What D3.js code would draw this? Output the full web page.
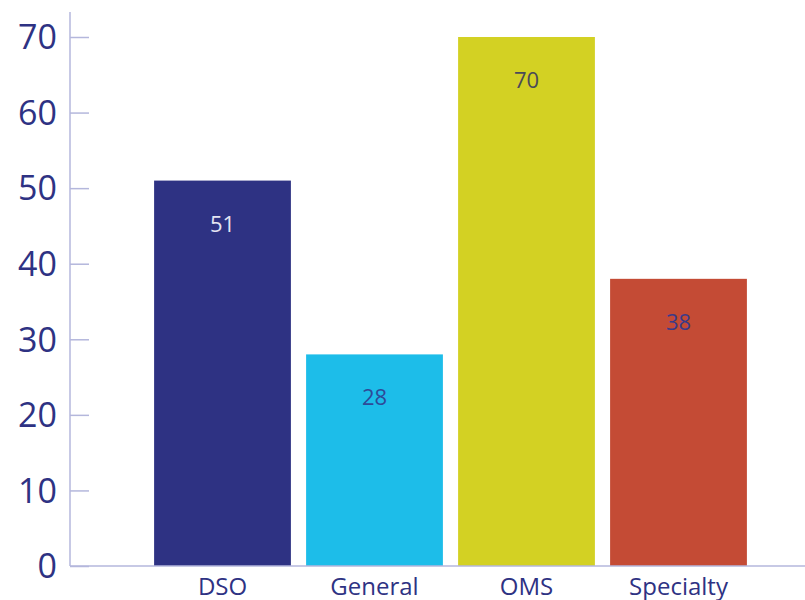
<!DOCTYPE html>
<html><head><meta charset="utf-8">
<script src="https://cdn.jsdelivr.net/npm/d3@7"></script>
<style>
html,body{margin:0;padding:0;background:#fff;}
svg{display:block;font-family:"Open Sans",sans-serif;}
</style></head>
<body>
<svg id="chart" width="805" height="600"></svg>
<script>
const categories = ["DSO", "General", "OMS", "Specialty"];
const values = [51, 28, 70, 38];
const barColors = ["#2e3283", "#1dbde9", "#d3d123", "#c44b35"];
const labelColors = ["#e4e4f2", "#2e4a98", "#4a4a58", "#3c3a88"];
const yTicks = [0, 10, 20, 30, 40, 50, 60, 70];

const svg = d3.select("#chart");
const axisColor = "#b4b7dc";
const textColor = "#2e3283";

const y = d3.scaleLinear().domain([0, 70]).range([566, 37]);
const x = d3.scaleBand().domain(categories).range([146.5, 754.5]).paddingInner(0.1).paddingOuter(0.05);

// bars
svg.selectAll("rect.bar").data(categories).enter().append("rect")
  .attr("class", "bar")
  .attr("x", d => x(d))
  .attr("width", x.bandwidth())
  .attr("y", (d, i) => y(values[i]))
  .attr("height", (d, i) => y(0) - y(values[i]))
  .attr("fill", (d, i) => barColors[i]);

// value labels
svg.selectAll("text.val").data(categories).enter().append("text")
  .attr("class", "val")
  .attr("x", d => x(d) + x.bandwidth() / 2)
  .attr("y", (d, i) => y(values[i]) + 51)
  .attr("text-anchor", "middle")
  .attr("font-size", 22)
  .attr("fill", (d, i) => labelColors[i])
  .text((d, i) => values[i]);

// y axis
const yAxis = d3.axisRight(y).tickValues(yTicks).tickSize(19).tickFormat("");
const ya = svg.append("g").attr("transform", "translate(70,0)").call(yAxis);
ya.select(".domain").remove();
ya.selectAll(".tick line").attr("stroke", axisColor).attr("stroke-width", 1.5);
svg.append("line").attr("x1", 70).attr("x2", 70).attr("y1", 12).attr("y2", y(0))
  .attr("stroke", axisColor).attr("stroke-width", 1.5);

svg.selectAll("text.ytick").data(yTicks).enter().append("text")
  .attr("class", "ytick")
  .attr("x", 57)
  .attr("y", d => y(d))
  .attr("dy", "0.36em")
  .attr("text-anchor", "end")
  .attr("font-size", 34)
  .attr("fill", textColor)
  .text(d => d);

// x axis
const xAxis = d3.axisBottom(x).tickSize(0).tickPadding(0);
const xa = svg.append("g").attr("transform", `translate(0,${y(0)})`).call(xAxis);
xa.select(".domain").remove();
xa.selectAll(".tick text").remove();
svg.append("line").attr("x1", 70).attr("x2", 805).attr("y1", y(0)).attr("y2", y(0))
  .attr("stroke", axisColor).attr("stroke-width", 1.5);

svg.selectAll("text.xlab").data(categories).enter().append("text")
  .attr("class", "xlab")
  .attr("x", d => x(d) + x.bandwidth() / 2)
  .attr("y", 595)
  .attr("text-anchor", "middle")
  .attr("font-size", 24)
  .attr("fill", textColor)
  .text(d => d);
</script>
</body></html>
